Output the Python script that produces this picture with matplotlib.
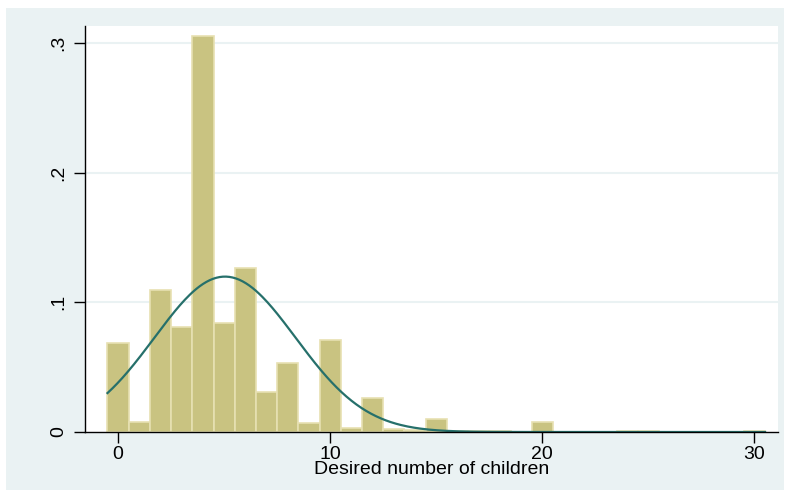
import numpy as np
import matplotlib
matplotlib.use("Agg")
import matplotlib.pyplot as plt
from matplotlib.patches import Rectangle

plt.rcParams['font.family'] = ['Liberation Sans', 'DejaVu Sans']

# desired number of children (discrete values) and their density
children = [0, 1, 2, 3, 4, 5, 6, 7, 8, 9, 10, 11, 12, 13, 14, 15, 16, 17, 18,
            20, 24, 25, 30]
density = [0.0688, 0.0080, 0.1095, 0.0812, 0.3055, 0.0843, 0.1265, 0.0311,
           0.0530, 0.0067, 0.0709, 0.0030, 0.0264, 0.0024, 0.0014, 0.0097,
           0.0010, 0.0006, 0.0004, 0.0078, 0.0006, 0.0006, 0.0008]

# normal overlay parameters
mean_kids = 5.04
sd_kids = 3.33

x_ticks = [0, 10, 20, 30]
y_ticks = [0, 0.1, 0.2, 0.3]
y_labels = ["0", ".1", ".2", ".3"]

bg = "#EAF2F3"
bar_fill = "#C9C381"
bar_edge = "#E7E0B2"
curve_col = "#26706B"

fig = plt.figure(figsize=(7.88, 4.96), dpi=100)
fig.patch.set_facecolor("white")
# outer graph region
fig.patches.append(Rectangle((6 / 788, 6 / 496), 778 / 788, 482 / 496,
                             transform=fig.transFigure, facecolor=bg,
                             edgecolor="none", zorder=-10))

ax = fig.add_axes([85 / 788, 1 - 432 / 496, 693 / 788, 406 / 496])
ax.set_facecolor("white")

ax.bar(children, density, width=1.0, color=bar_fill, edgecolor=bar_edge,
       linewidth=1.2, zorder=2)

xs = np.linspace(-0.5, 30.5, 400)
pdf = np.exp(-0.5 * ((xs - mean_kids) / sd_kids) ** 2) / (sd_kids * np.sqrt(2 * np.pi))
ax.plot(xs, pdf, color=curve_col, linewidth=1.6, zorder=3)

ax.set_xlim(-1.56, 31.11)
ax.set_ylim(0, 0.313)

ax.set_xticks(x_ticks)
ax.set_yticks(y_ticks)
ax.set_yticklabels(y_labels, rotation=90, va="center")
ax.tick_params(axis="both", direction="out", length=8, width=1.0,
               labelsize=14, colors="black")
ax.tick_params(axis="y", pad=5)
ax.tick_params(axis="x", pad=2)

for y in y_ticks[1:]:
    ax.axhline(y, color=bg, linewidth=1.5, zorder=1)

for side in ["top", "right"]:
    ax.spines[side].set_visible(False)
ax.spines["left"].set_linewidth(1.0)
ax.spines["bottom"].set_linewidth(1.0)
ax.spines["bottom"].set_zorder(4)

ax.set_xlabel("Desired number of children", fontsize=14, labelpad=-1)

fig.savefig("out.png", dpi=100)
